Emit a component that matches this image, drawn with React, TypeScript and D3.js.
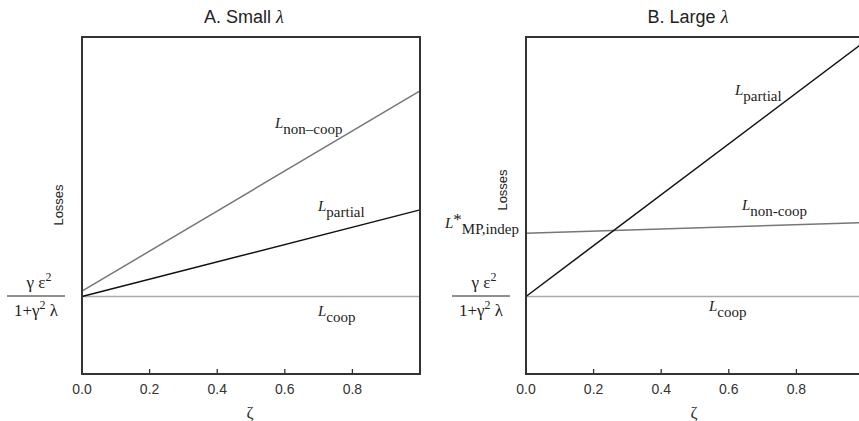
import React from "react";
import * as d3 from "d3";

const zetaTicks = [0, 0.2, 0.4, 0.6, 0.8];
const zetaDomain = [0, 1];
const lossDomain = [0, 10];

// Panel A: small lambda (losses in arbitrary units)
const aCoop = [2.3, 2.3];
const aNonCoop = [2.46, 8.4];
const aPartial = [2.3, 4.87];

// Panel B: large lambda
const bCoop = [2.3, 2.3];
const bNonCoop = [4.18, 4.49];
const bPartial = [2.3, 9.85];

const zetaEnds = [0, 1];

type Panel = {
  title: string;
  x0: number;
  x1: number;
  coop: number[];
  nonCoop: number[];
  partial: number[];
  key: string;
};

const panels: Panel[] = [
  { key: "A", title: "A. Small ", x0: 82, x1: 420, coop: aCoop, nonCoop: aNonCoop, partial: aPartial },
  { key: "B", title: "B. Large ", x0: 526, x1: 864, coop: bCoop, nonCoop: bNonCoop, partial: bPartial },
];

const TOP = 37;
const BOTTOM = 374;
const serif = "'Liberation Serif', 'DejaVu Serif', serif";
const sans = "'Liberation Sans', Arial, sans-serif";

function Sub({ x, y, main, sub, sup }: { x: number; y: number; main: string; sub: string; sup?: string }) {
  return (
    <text x={x} y={y} fontFamily={serif} fontSize={15} fill="#222">
      <tspan fontStyle="italic">{main}</tspan>
      {sup ? <tspan dy={-3} fontSize={17}>{sup}</tspan> : null}
      <tspan dy={sup ? 9 : 6} fontSize={15}>{sub}</tspan>
    </text>
  );
}

function Fraction({ cx }: { cx: number }) {
  return (
    <g fontFamily={serif} fontSize={17} fill="#222">
      <text x={cx + 3} y={288} textAnchor="middle">
        γ ε<tspan dy={-7} fontSize={12}>2</tspan>
      </text>
      <line x1={cx - 29} x2={cx + 29} y1={296} y2={296} stroke="#222" strokeWidth={1} />
      <text x={cx} y={316} textAnchor="middle">
        1+γ<tspan dy={-7} fontSize={12}>2</tspan>
        <tspan dy={7}> λ</tspan>
      </text>
    </g>
  );
}

function PanelView({ p }: { p: Panel }) {
  const x = d3.scaleLinear().domain(zetaDomain).range([p.x0, p.x1]);
  const y = d3.scaleLinear().domain(lossDomain).range([BOTTOM, TOP]);
  const line = d3
    .line<number>()
    .x((_, i) => x(zetaEnds[i]))
    .y((v) => y(v));
  const cx = (p.x0 + p.x1) / 2;
  return (
    <g>
      <text x={cx - 7} y={23} textAnchor="middle" fontFamily={sans} fontSize={18} fill="#222">
        {p.title}
        <tspan fontFamily={serif} fontStyle="italic">λ</tspan>
      </text>
      <path d={line(p.coop) || ""} stroke="#aaa" strokeWidth={1.3} fill="none" />
      <path d={line(p.nonCoop) || ""} stroke="#777" strokeWidth={1.5} fill="none" />
      <path d={line(p.partial) || ""} stroke="#111" strokeWidth={1.5} fill="none" />
      <rect x={p.x0} y={TOP} width={p.x1 - p.x0} height={BOTTOM - TOP} fill="none" stroke="#333" strokeWidth={2} />
      {zetaTicks.map((t) => (
        <g key={t}>
          <line x1={x(t)} x2={x(t)} y1={BOTTOM} y2={BOTTOM - 5} stroke="#333" strokeWidth={1.3} />
          <text x={x(t)} y={BOTTOM + 20} textAnchor="middle" fontFamily={sans} fontSize={14} fill="#333">
            {t.toFixed(1)}
          </text>
        </g>
      ))}
      <text x={x(0.5) - 1} y={BOTTOM + 44} textAnchor="middle" fontFamily={serif} fontSize={17} fill="#333">
        ζ
      </text>
      <text
        transform={`translate(${p.x0 - 19},${p.key === "A" ? 205 : 190}) rotate(-90)`}
        textAnchor="middle"
        fontFamily={sans}
        fontSize={13}
        fill="#222"
      >
        Losses
      </text>
      <Fraction cx={p.key === "A" ? 36 : 481} />
    </g>
  );
}

export default function App() {
  return (
    <svg width={859} height={421} style={{ position: "absolute", left: 0, top: 0, background: "#fff" }}>
      <rect x={0} y={0} width={859} height={421} fill="#fff" />
      {panels.map((p) => (
        <PanelView key={p.key} p={p} />
      ))}
      <Sub x={275} y={128} main="L" sub="non–coop" />
      <Sub x={318} y={211} main="L" sub="partial" />
      <Sub x={318} y={316} main="L" sub="coop" />
      <Sub x={735} y={95} main="L" sub="partial" />
      <Sub x={742} y={210} main="L" sub="non-coop" />
      <Sub x={709} y={311} main="L" sub="coop" />
      <Sub x={445} y={228} main="L" sup="*" sub="MP,indep" />
    </svg>
  );
}
